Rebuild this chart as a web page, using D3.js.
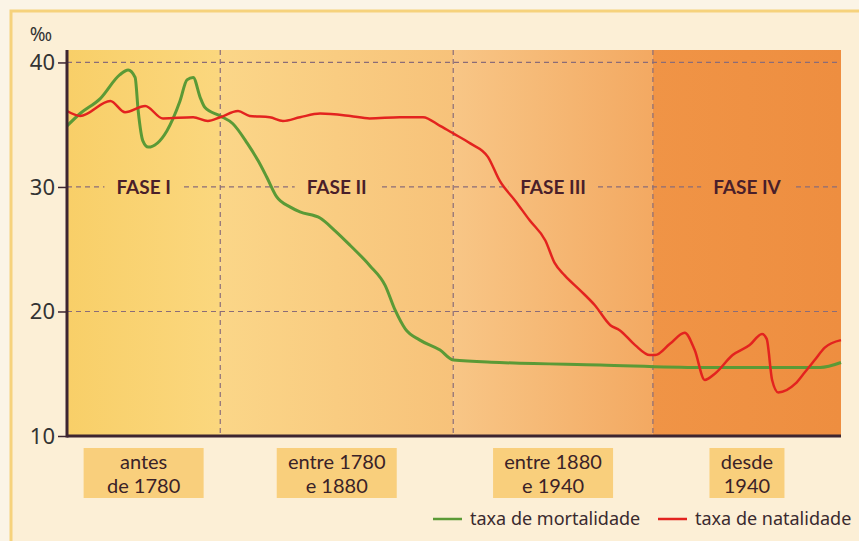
<!DOCTYPE html>
<html>
<head>
<meta charset="utf-8">
<script src="https://cdn.jsdelivr.net/npm/d3@7"></script>
<style>
  html, body { margin: 0; padding: 0; background: #fbf4e6; }
  svg { display: block; font-family: "Noto Sans", "Open Sans", sans-serif; }
</style>
</head>
<body>
<div id="chart"></div>
<script>
// Fases da transição demográfica (eixo x em unidades 0-100)
const fases = ['FASE I', 'FASE II', 'FASE III', 'FASE IV'];
const limitesFases = [0, 19.8, 49.9, 75.7, 100];
const periodos = [['antes', 'de 1780'], ['entre 1780', 'e 1880'], ['entre 1880', 'e 1940'], ['desde', '1940']];
const yTicks = [10, 20, 30, 40];

// taxa de mortalidade (‰)
const mortalidade = [
  [0, 34.9], [1.7, 35.9], [4.3, 37.1], [6.8, 39.0], [7.9, 39.4], [8.8, 38.8],
  [9.2, 36.1], [9.8, 33.7], [10.5, 33.2], [12.9, 34.5], [14.6, 36.9], [15.5, 38.6],
  [16.3, 38.8], [17.2, 37.2], [17.8, 36.4], [19.8, 35.7], [21.4, 35.1], [23.3, 33.5],
  [24.7, 32.1], [25.8, 30.8], [27.1, 29.2], [28.8, 28.4], [30.1, 28.0], [32.7, 27.5],
  [34.6, 26.5], [36.6, 25.3], [39.1, 23.7], [41.1, 22.1], [42.4, 20.1], [43.7, 18.6],
  [45.6, 17.7], [48.2, 16.9], [49.9, 16.1], [55.9, 15.9], [68.9, 15.7], [81.8, 15.5],
  [97.3, 15.5], [100, 15.9]
];

// taxa de natalidade (‰)
const natalidade = [
  [0, 36.1], [1.7, 35.7], [5.6, 36.9], [7.5, 36.0], [10.1, 36.5], [12.4, 35.5],
  [16.3, 35.6], [18.2, 35.3], [19.8, 35.6], [22.1, 36.1], [23.6, 35.7], [26.2, 35.6],
  [27.9, 35.3], [30.1, 35.6], [32.7, 35.9], [36.6, 35.7], [39.1, 35.5], [43.0, 35.6],
  [46.0, 35.6], [48.2, 34.9], [49.9, 34.3], [52.1, 33.5], [54.4, 32.4], [55.9, 30.5],
  [57.9, 28.9], [59.8, 27.3], [61.8, 25.7], [63.0, 23.9], [64.3, 22.9], [66.3, 21.7],
  [68.2, 20.5], [70.2, 18.9], [71.4, 18.5], [73.4, 17.3], [75.3, 16.5], [76.0, 16.5],
  [77.9, 17.4], [79.8, 18.3], [81.1, 16.9], [82.4, 14.5], [83.7, 15.0], [86.0, 16.5],
  [88.2, 17.3], [89.8, 18.2], [90.4, 17.8], [91.1, 14.5], [91.9, 13.5], [94.1, 14.2],
  [95.3, 15.1], [96.6, 16.1], [97.9, 17.1], [100, 17.7]
];

const coresFases = [['#f8cf68', '#fbd77e'], ['#fbd688', '#f7c27a'], ['#f8c686', '#f3a962'], ['#f09446', '#ee8e40']];
const series = [
  { nome: 'taxa de mortalidade', dados: mortalidade, cor: '#5b9a36', largura: 3 },
  { nome: 'taxa de natalidade', dados: natalidade, cor: '#e3231f', largura: 2.5 }
];

const W = 859, H = 541;
const margin = { top: 50, right: 18, bottom: 105, left: 67 };
const width = W - margin.left - margin.right;
const height = H - margin.top - margin.bottom;

const svg = d3.select('#chart').append('svg')
  .attr('width', W)
  .attr('height', H);

// moldura
svg.append('rect').attr('x', 0).attr('y', 0).attr('width', W).attr('height', H).attr('fill', '#fbf4e6');
svg.append('rect').attr('x', 11).attr('y', 11).attr('width', W - 11).attr('height', H - 11)
  .attr('fill', '#fcefd6');
svg.append('path').attr('d', `M11,${H} V11 H${W}`)
  .attr('fill', 'none').attr('stroke', '#f6d27c').attr('stroke-width', 3);

const g = svg.append('g').attr('transform', `translate(${margin.left},${margin.top})`);

const x = d3.scaleLinear().domain([0, 100]).range([0, width]);
const y = d3.scaleLinear().domain([10, 41]).range([height, 0]);

// gradientes das fases
const defs = svg.append('defs');
fases.forEach((f, i) => {
  const grad = defs.append('linearGradient')
    .attr('id', 'fase' + i)
    .attr('gradientUnits', 'userSpaceOnUse')
    .attr('x1', x(limitesFases[i])).attr('x2', x(limitesFases[i + 1]))
    .attr('y1', 0).attr('y2', 0);
  grad.append('stop').attr('offset', '0%').attr('stop-color', coresFases[i][0]);
  grad.append('stop').attr('offset', '100%').attr('stop-color', coresFases[i][1]);
});

g.selectAll('rect.fase')
  .data(fases)
  .join('rect')
  .attr('class', 'fase')
  .attr('x', (d, i) => x(limitesFases[i]))
  .attr('width', (d, i) => x(limitesFases[i + 1]) - x(limitesFases[i]))
  .attr('y', y(41))
  .attr('height', y(10) - y(41))
  .attr('fill', (d, i) => `url(#fase${i})`);

// grelha tracejada
const grid = g.append('g').attr('stroke', '#8a6c78').attr('stroke-width', 1.2).attr('stroke-dasharray', '5,4');
grid.selectAll('line.h')
  .data(yTicks.filter(d => d > 10))
  .join('line')
  .attr('x1', 0).attr('x2', width)
  .attr('y1', d => y(d)).attr('y2', d => y(d));
grid.selectAll('line.v')
  .data(limitesFases.slice(1, -1))
  .join('line')
  .attr('x1', d => x(d)).attr('x2', d => x(d))
  .attr('y1', y(41)).attr('y2', y(10));

// rótulos das fases (com fundo que corta a grelha)
fases.forEach((f, i) => {
  const cx = x((limitesFases[i] + limitesFases[i + 1]) / 2);
  const t = g.append('text')
    .attr('x', cx)
    .attr('y', y(30))
    .attr('dy', '0.36em')
    .attr('text-anchor', 'middle')
    .style('font-family', 'Lato, sans-serif')
    .style('font-size', '19px')
    .style('font-weight', 'bold')
    .style('fill', '#4a1f2a')
    .text(f);
  const bb = t.node().getBBox();
  g.insert('rect', () => t.node())
    .attr('x', bb.x - 12).attr('width', bb.width + 24)
    .attr('y', y(30) - 3).attr('height', 6)
    .attr('fill', `url(#fase${i})`);
});

// linhas
const line = d3.line()
  .x(d => x(d[0]))
  .y(d => y(d[1]))
  .curve(d3.curveMonotoneX);

g.selectAll('path.serie')
  .data(series)
  .join('path')
  .attr('class', 'serie')
  .attr('d', d => line(d.dados))
  .attr('fill', 'none')
  .attr('stroke', d => d.cor)
  .attr('stroke-width', d => d.largura)
  .attr('stroke-linejoin', 'round');

// eixo y
const yAxis = g.append('g')
  .call(d3.axisLeft(y).tickValues(yTicks).tickSize(9).tickPadding(3));
yAxis.select('.domain').remove();
yAxis.selectAll('.tick line').attr('stroke', '#3d2530').attr('stroke-width', 1.5);
yAxis.selectAll('.tick text')
  .style('font-size', '22px')
  .style('font-family', '"Noto Sans", sans-serif')
  .style('fill', '#333');

g.append('line')
  .attr('x1', 0).attr('x2', 0).attr('y1', y(41)).attr('y2', y(10) + 1.5)
  .attr('stroke', '#3d2530').attr('stroke-width', 3);
g.append('line')
  .attr('x1', 0).attr('x2', width).attr('y1', y(10)).attr('y2', y(10))
  .attr('stroke', '#3d2530').attr('stroke-width', 3);

g.append('text')
  .attr('x', -15).attr('y', y(41) - 9)
  .attr('text-anchor', 'end')
  .style('font-size', '19px')
  .style('fill', '#333')
  .text('‰');

// caixas dos períodos
const larguras = [120, 120, 120, 75];
periodos.forEach((p, i) => {
  const cx = x((limitesFases[i] + limitesFases[i + 1]) / 2);
  g.append('rect')
    .attr('x', cx - larguras[i] / 2)
    .attr('y', height + 12)
    .attr('width', larguras[i])
    .attr('height', 50)
    .attr('fill', '#f9cf7c');
  p.forEach((linha, j) => {
    g.append('text')
      .attr('x', cx)
      .attr('y', height + 33 + j * 24)
      .attr('text-anchor', 'middle')
      .style('font-family', 'Lato, sans-serif')
      .style('font-size', '20px')
      .style('fill', '#3a2228')
      .text(linha);
  });
});

// legenda
const legend = svg.append('g').attr('transform', 'translate(433,519)');
const legX = [0, 225];
series.forEach((s, i) => {
  const lg = legend.append('g').attr('transform', `translate(${legX[i]},0)`);
  lg.append('line').attr('x1', 0).attr('x2', 29).attr('y1', 0).attr('y2', 0)
    .attr('stroke', s.cor).attr('stroke-width', 2.5);
  lg.append('text').attr('x', 37).attr('dy', '0.35em')
    .style('font-size', '18px')
    .style('fill', '#3a2a2e')
    .text(s.nome);
});
</script>
</body>
</html>
